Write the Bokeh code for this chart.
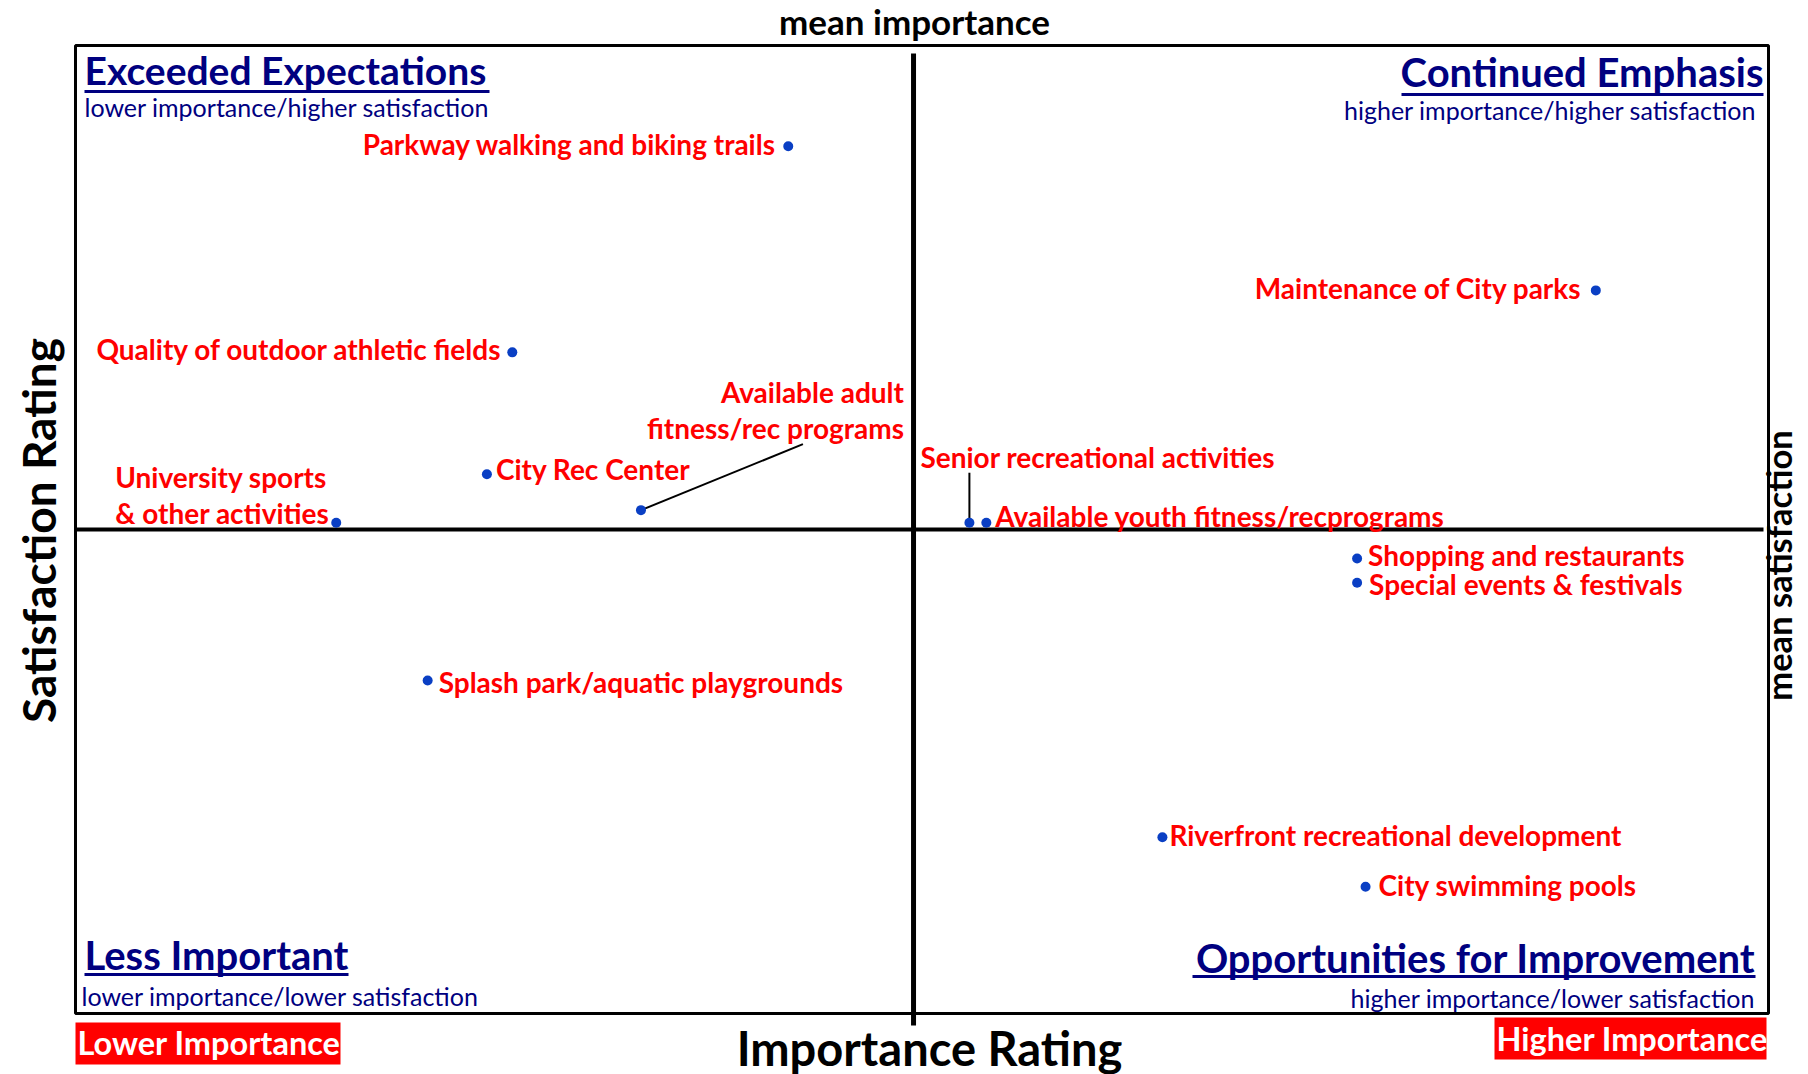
import math
from bokeh.plotting import figure
from bokeh.models import ColumnDataSource, Range1d
from bokeh.core.properties import value
from bokeh.embed import file_html
from bokeh.resources import INLINE

# ---------------- data ----------------
items = [
    "Parkway walking and biking trails",
    "Maintenance of City parks",
    "Quality of outdoor athletic fields",
    "Available adult\nfitness/rec programs",
    "City Rec Center",
    "University sports\n& other activities",
    "Senior recreational activities",
    "Available youth fitness/recprograms",
    "Shopping and restaurants",
    "Special events & festivals",
    "Splash park/aquatic playgrounds",
    "Riverfront recreational development",
    "City swimming pools",
]
importance = [42.1, 89.8, 25.8, 33.4, 24.3, 15.4, 52.8, 53.8, 75.7, 75.7, 20.8, 64.2, 76.2]
satisfaction = [89.6, 74.7, 68.3, 52.0, 55.7, 50.7, 50.7, 50.7, 47.0, 44.5, 34.4, 18.2, 13.1]
mean_importance = 49.5
mean_satisfaction = 50.0

quadrant_titles = ["Exceeded Expectations", "Continued Emphasis", "Less Important", "Opportunities for Improvement"]
quadrant_subtitles = ["lower importance/higher satisfaction", "higher importance/higher satisfaction",
                      "lower importance/lower satisfaction", "higher importance/lower satisfaction"]

# ---------------- layout helpers (page pixels -> data) ----------------
BOX_L, BOX_R, BOX_T, BOX_B = 75, 1768, 45, 1013
SX = (BOX_R - BOX_L) / 100.0
SY = (BOX_B - BOX_T) / 100.0
W, H = 1808, 1074


def X(px):
    return (px - BOX_L) / SX


def Y(py):
    return (BOX_B - py) / SY


p = figure(width=W, height=H, output_backend="svg", toolbar_location=None,
           x_range=Range1d(X(0), X(W)), y_range=Range1d(Y(H), Y(0)),
           x_axis_location=None, y_axis_location=None, min_border=0)
p.outline_line_color = None
p.grid.visible = False
p.background_fill_color = "white"
p.border_fill_color = "white"

FONT = "Lato"
NAVY = "#000080"
RED = "#FF0000"
BLUE = "#0A3FC4"

# frame box
p.quad(left=[0], right=[100], bottom=[0], top=[100], fill_color=None, line_color="black", line_width=3)

# mean lines
p.segment(x0=[mean_importance], x1=[mean_importance], y0=[Y(1025)], y1=[Y(53)], line_color="black", line_width=5)
p.segment(x0=[0], x1=[X(1763)], y0=[mean_satisfaction], y1=[mean_satisfaction], line_color="black", line_width=4)


def txt(px, py, s, size, color="black", align="left", style="bold", angle=0):
    p.text(x=[X(px)], y=[Y(py)], text=[s], text_font=value(FONT), text_font_size=size,
           text_font_style=style, text_color=color, text_align=align, text_baseline="middle", angle=angle)


# axis titles
txt(914, 20, "mean importance", "35px", align="center")
txt(929, 1047, "Importance Rating", "47px", align="center")
txt(38, 530, "Satisfaction Rating", "46px", align="center", angle=math.pi / 2)
txt(1778, 565, "mean satisfaction", "34.5px", align="center", angle=math.pi / 2)

# quadrant titles + underlines
qt_pos = [(84, 69, "left", 84, 489, 91), (1763, 71, "right", 1401, 1763, 94),
          (84, 954, "left", 84, 348, 974), (1755, 957, "right", 1192, 1755, 976)]
qt_size = ["39px", "40px", "40px", "40px"]
for t, (px, py, al, u0, u1, uy), fs in zip(quadrant_titles, qt_pos, qt_size):
    txt(px, py, t, fs, color=NAVY, align=al)
    p.segment(x0=[X(u0)], x1=[X(u1)], y0=[Y(uy)], y1=[Y(uy)], line_color=NAVY, line_width=3)
qs_pos = [(84, 106, "left"), (1756, 109, "right"), (81, 995, "left"), (1755, 997, "right")]
for t, (px, py, al) in zip(quadrant_subtitles, qs_pos):
    txt(px, py, t, "25px", color=NAVY, align=al, style="normal")

# red corner boxes
p.quad(left=[X(75)], right=[X(340)], top=[Y(1022)], bottom=[Y(1064)], fill_color=RED, line_color=None)
txt(77, 1042, "Lower Importance", "32.5px", color="white")
p.quad(left=[X(1494)], right=[X(1766)], top=[Y(1017)], bottom=[Y(1059)], fill_color=RED, line_color=None)
txt(1496, 1038, "Higher Importance", "32.5px", color="white")

# label placement (screen px offsets from each point)
place = [("right", -12, [-2]), ("right", -14, [-2]), ("right", -10, [-3]), ("right", 263, [-118, -82]),
         ("left", 9, [-5]), ("left", -221, [-46, -10]), ("left", -49, [-66]), ("left", 9, [-7]),
         ("left", 11, [-4]), ("left", 12, [1]), ("left", 11, [1]), ("left", 7, [-2]), ("left", 13, [-2])]

lx, ly, lt, lxo, lyo, la = [], [], [], [], [], []
for name, xi, yi, (al, dx, dys) in zip(items, importance, satisfaction, place):
    for line, dy in zip(name.split("\n"), dys):
        lx.append(xi); ly.append(yi); lt.append(line)
        lxo.append(dx); lyo.append(dy); la.append(al)
lab = ColumnDataSource(dict(x=lx, y=ly, text=lt, xo=lxo, yo=lyo, align=la))
p.text(x="x", y="y", text="text", x_offset="xo", y_offset="yo", text_align="align", source=lab,
       text_baseline="middle", text_font=value(FONT), text_font_size="28px", text_font_style="bold",
       text_color=RED)

# leader lines
i_ad = items.index("Available adult\nfitness/rec programs")
i_sr = items.index("Senior recreational activities")
p.segment(x0=[importance[i_ad]], y0=[satisfaction[i_ad]],
          x1=[importance[i_ad] + 162 / SX], y1=[satisfaction[i_ad] + 66 / SY], line_color="black", line_width=2)
p.segment(x0=[importance[i_sr]], y0=[satisfaction[i_sr] + 4 / SY],
          x1=[importance[i_sr]], y1=[satisfaction[i_sr] + 50 / SY], line_color="black", line_width=2)

# points
src = ColumnDataSource(dict(x=importance, y=satisfaction))
p.scatter(x="x", y="y", source=src, size=10, color=BLUE, line_color=None)

open("out.html", "w").write(file_html(p, INLINE))
